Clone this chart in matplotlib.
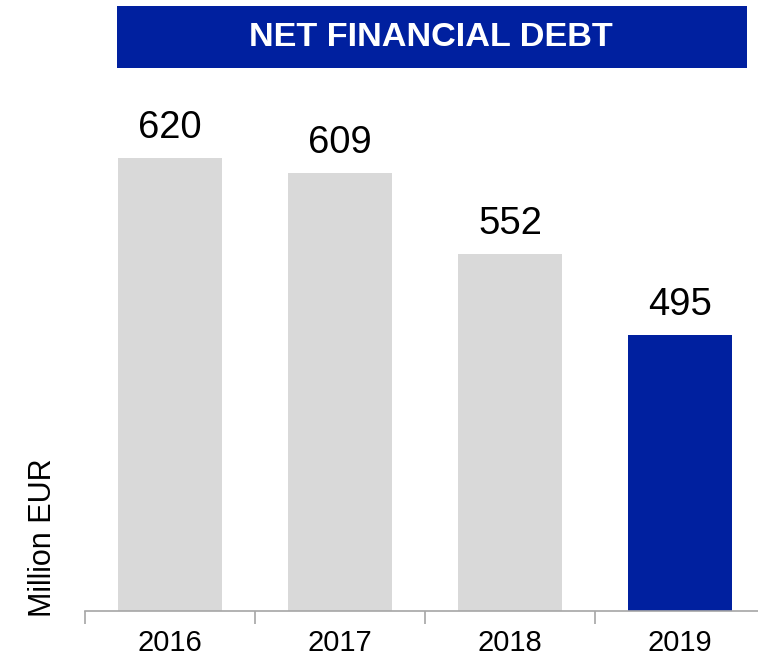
import matplotlib.pyplot as plt
from matplotlib.patches import Rectangle

plt.rcParams['font.family'] = ['Liberation Sans', 'DejaVu Sans']

years = ['2016', '2017', '2018', '2019']
debt = [620, 609, 552, 495]
bar_colors = ['#D9D9D9', '#D9D9D9', '#D9D9D9', '#00209F']

W, H = 758, 660
fig = plt.figure(figsize=(W / 100, H / 100), dpi=100)

# axes: baseline at y=611px, left edge at x=85px, runs off the right side
ax = fig.add_axes([85 / W, (H - 611) / H, 1 - 85 / W, 611 / H])
ax.patch.set_alpha(0)

x = range(len(years))
ax.bar(x, debt, width=0.61, color=bar_colors, zorder=2)

for xi, v in zip(x, debt):
    ax.annotate(str(v), (xi, v), xytext=(0, 14.4), textcoords='offset points',
                ha='center', va='baseline', fontsize=27.5, color='black')

ax.set_ylim(300, 300 + 611 / 1.416)
ax.set_xlim(-0.5, 3.5 - 7 / 170)

# ticks between categories, labels centred under bars
ax.set_xticks([-0.5, 0.5, 1.5, 2.5])
ax.set_xticklabels([])
ax.set_xticks(list(x), minor=True)
ax.set_xticklabels(years, minor=True)
ax.tick_params(axis='x', which='major', length=9, width=1.2, color='#A6A6A6')
ax.tick_params(axis='x', which='minor', length=0, pad=13, labelsize=21)
ax.set_yticks([])

for s in ['left', 'top', 'right']:
    ax.spines[s].set_visible(False)
ax.spines['bottom'].set_color('#A6A6A6')
ax.spines['bottom'].set_linewidth(1.2)

# title banner
fig.add_artist(Rectangle((117 / W, 1 - 68 / H), 630 / W, 62 / H,
                         transform=fig.transFigure, facecolor='#00209F',
                         edgecolor='none'))
fig.text(431 / W, 1 - 37 / H, 'NET FINANCIAL DEBT', ha='center', va='center',
         color='white', fontsize=24.7, fontweight='bold')

fig.text(43 / W, 1 - 538 / H, 'Million EUR', rotation=90, ha='center',
         va='center', fontsize=22)

fig.savefig('out.png', dpi=100)
